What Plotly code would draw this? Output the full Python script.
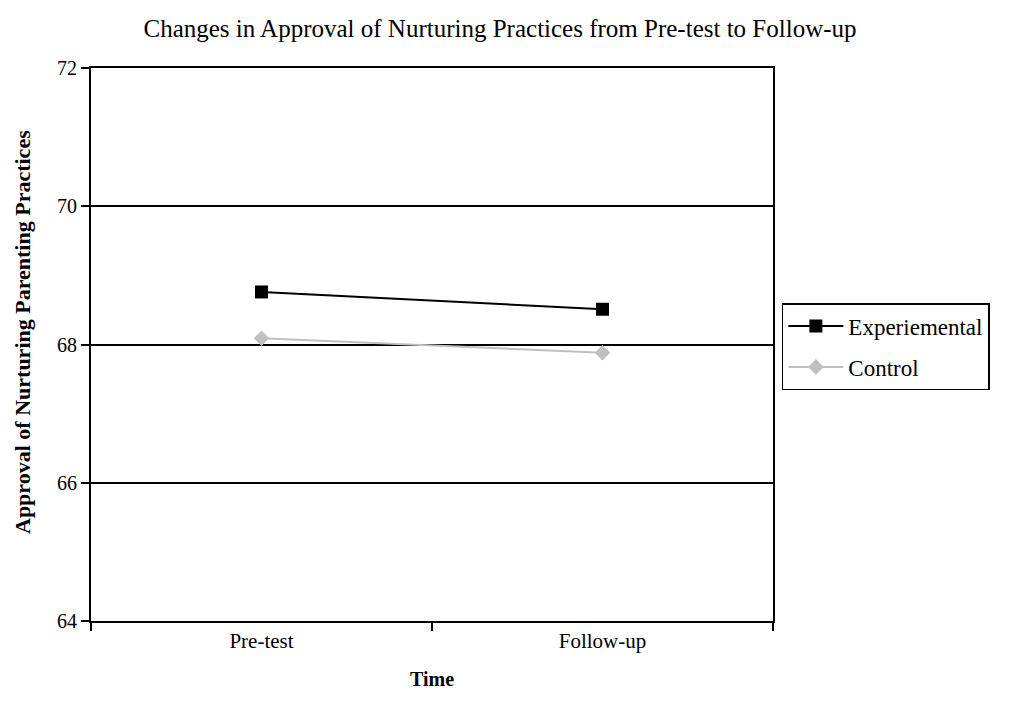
import plotly.graph_objects as go

# Mean approval scores at each time point
time_points = ["Pre-test", "Follow-up"]
experimental = [68.76, 68.51]
control = [68.09, 67.88]

y_ticks = [64, 66, 68, 70, 72]

serif = "Liberation Serif, Times New Roman, serif"

fig = go.Figure()
fig.add_trace(go.Scatter(
    x=time_points, y=experimental, name="Experiemental",
    mode="lines+markers", legendgroup="exp",
    line=dict(color="black", width=2),
    marker=dict(symbol="square", size=13, color="black"),
))
fig.add_trace(go.Scatter(
    x=time_points, y=control, name="Control",
    mode="lines+markers", legendgroup="ctl",
    line=dict(color="#c0c0c0", width=2),
    marker=dict(symbol="diamond", size=12, color="#c0c0c0"),
))

fig.update_layout(
    width=1015, height=715,
    margin=dict(l=91, r=242, t=68, b=94),
    paper_bgcolor="white", plot_bgcolor="white",
    font=dict(family=serif, color="black", size=18),
    title=dict(
        text="Changes in Approval of Nurturing Practices from Pre-test to Follow-up",
        x=500 / 1015, xref="container", xanchor="center",
        y=1 - 28 / 715, yanchor="middle",
        font=dict(family=serif, size=25, color="black"),
    ),
    showlegend=True,
    legend=dict(
        x=1.013, y=0.575, xanchor="left", yanchor="top",
        bordercolor="black", borderwidth=1.5, bgcolor="white",
        font=dict(family=serif, size=23, color="black"),
        itemwidth=55, tracegroupgap=8,
    ),
    xaxis=dict(
        type="category", range=[-0.5, 1.5],
        tickson="boundaries", ticks="outside", ticklen=8, tickwidth=1.5,
        tickcolor="black",
        showline=True, linecolor="black", linewidth=2, mirror=True,
        showgrid=False, zeroline=False,
        tickfont=dict(family=serif, size=21),
        title=dict(text="<b>Time</b>", standoff=20,
                   font=dict(family=serif, size=20)),
    ),
    yaxis=dict(
        range=[64, 72], tickvals=y_ticks,
        ticks="outside", ticklen=8, tickwidth=1.5, tickcolor="black",
        showline=True, linecolor="black", linewidth=2, mirror=True,
        showgrid=True, gridcolor="black", gridwidth=1.5,
        zeroline=False,
        tickfont=dict(family=serif, size=20),
    ),
    annotations=[dict(
        text="<b>Approval of Nurturing Parenting Practices</b>",
        textangle=-90, showarrow=False,
        xref="paper", yref="paper",
        x=(22 - 91) / 682, y=(621 - 332) / 553,
        xanchor="center", yanchor="middle",
        font=dict(family=serif, size=22, color="black"),
    )],
)

fig.write_html("out.html")
